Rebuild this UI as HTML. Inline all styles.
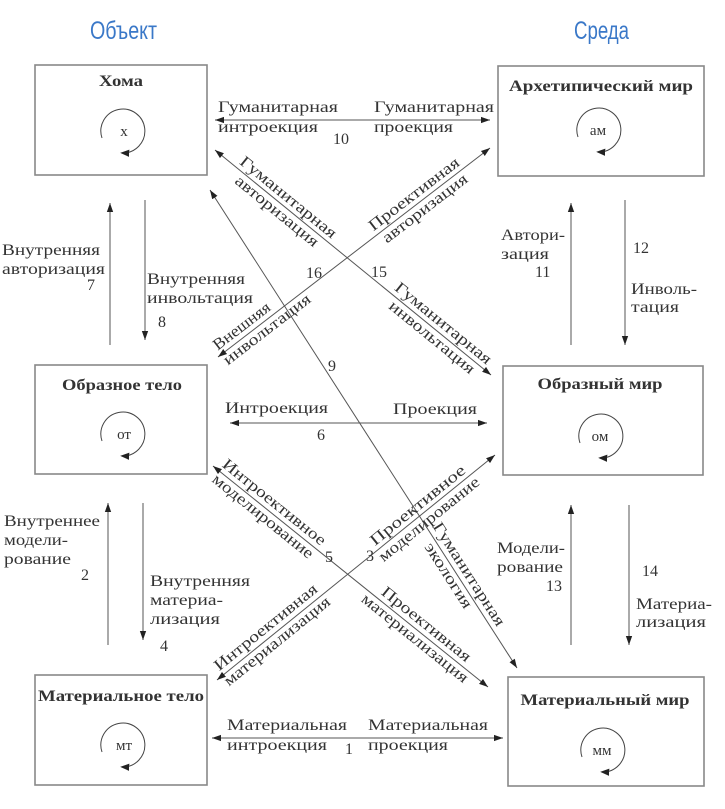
<!DOCTYPE html>
<html><head><meta charset="utf-8"><style>
html,body{margin:0;padding:0;background:#fff;}
svg{display:block;}
text{font-family:"Liberation Serif",serif;fill:#333;font-size:16px;}
.b{font-weight:bold;font-size:16px;}
.t{font-family:"Liberation Sans",sans-serif;fill:#3a78c8;font-size:25px;}
.c{font-size:15px;}
</style></head><body>
<svg width="725" height="809" viewBox="0 0 725 809" xmlns="http://www.w3.org/2000/svg">
<defs>
<marker id="a" viewBox="0 0 10 10" refX="10" refY="5" markerWidth="9" markerHeight="9" orient="auto-start-reverse" markerUnits="userSpaceOnUse"><path d="M0,1.5 L10,5 L0,8.5 z" fill="#222"/></marker>
<marker id="s" viewBox="0 0 10 10" refX="8" refY="5" markerWidth="9" markerHeight="9" orient="auto" markerUnits="userSpaceOnUse"><path d="M0,1 L10,5 L0,9 z" fill="#222"/></marker>
</defs>
<text class="t" x="90" y="39" textLength="67" lengthAdjust="spacingAndGlyphs">Объект</text>
<text class="t" x="574" y="39" textLength="55" lengthAdjust="spacingAndGlyphs">Среда</text>

<g fill="none" stroke="#888" stroke-width="1.6">
<rect x="35" y="65" width="172" height="110"/>
<rect x="498" y="66" width="206" height="110"/>
<rect x="35" y="365" width="172" height="109"/>
<rect x="503" y="366" width="200" height="109"/>
<rect x="35" y="675" width="172" height="110"/>
<rect x="508" y="677" width="196" height="109"/>
</g>
<text class="b" x="121" y="86" text-anchor="middle" textLength="44" lengthAdjust="spacingAndGlyphs">Хома</text>
<text class="b" x="601" y="91" text-anchor="middle" textLength="184" lengthAdjust="spacingAndGlyphs">Архетипический мир</text>
<text class="b" x="122" y="390" text-anchor="middle" textLength="120" lengthAdjust="spacingAndGlyphs">Образное тело</text>
<text class="b" x="600" y="389" text-anchor="middle" textLength="125" lengthAdjust="spacingAndGlyphs">Образный мир</text>
<text class="b" x="121" y="701" text-anchor="middle" textLength="166" lengthAdjust="spacingAndGlyphs">Материальное тело</text>
<text class="b" x="605" y="705" text-anchor="middle" textLength="169" lengthAdjust="spacingAndGlyphs">Материальный мир</text>

<g fill="none" stroke="#444" stroke-width="1">
<path d="M102,138 A22,22 0 1,1 122,153" marker-end="url(#s)"/>
<path d="M578,137 A22,22 0 1,1 598,152" marker-end="url(#s)"/>
<path d="M102,441 A22,22 0 1,1 122,456" marker-end="url(#s)"/>
<path d="M580,443 A22,22 0 1,1 600,458" marker-end="url(#s)"/>
<path d="M102,752 A22,22 0 1,1 122,767" marker-end="url(#s)"/>
<path d="M582,757 A22,22 0 1,1 602,772" marker-end="url(#s)"/>
</g>
<text class="c" x="124" y="136" text-anchor="middle">х</text>
<text class="c" x="598" y="135" text-anchor="middle">ам</text>
<text class="c" x="124" y="439" text-anchor="middle">от</text>
<text class="c" x="600" y="441" text-anchor="middle">ом</text>
<text class="c" x="124" y="750" text-anchor="middle">мт</text>
<text class="c" x="602" y="755" text-anchor="middle">мм</text>

<g stroke="#555" stroke-width="1" fill="none">
<line x1="215" y1="120" x2="490" y2="120" marker-start="url(#a)" marker-end="url(#a)"/>
<line x1="230" y1="423" x2="487" y2="423" marker-start="url(#a)" marker-end="url(#a)"/>
<line x1="212" y1="738" x2="503" y2="738" marker-start="url(#a)" marker-end="url(#a)"/>
<line x1="110" y1="345" x2="110" y2="203" marker-end="url(#a)"/>
<line x1="145" y1="200" x2="145" y2="340" marker-end="url(#a)"/>
<line x1="571" y1="345" x2="571" y2="203" marker-end="url(#a)"/>
<line x1="625" y1="200" x2="625" y2="345" marker-end="url(#a)"/>
<line x1="108" y1="645" x2="108" y2="503" marker-end="url(#a)"/>
<line x1="143" y1="503" x2="143" y2="640" marker-end="url(#a)"/>
<line x1="571" y1="645" x2="571" y2="505" marker-end="url(#a)"/>
<line x1="629" y1="505" x2="629" y2="645" marker-end="url(#a)"/>
<line x1="215" y1="150" x2="491" y2="375" marker-start="url(#a)" marker-end="url(#a)"/>
<line x1="218" y1="357" x2="490" y2="148" marker-start="url(#a)" marker-end="url(#a)"/>
<line x1="210" y1="190" x2="517" y2="668" marker-start="url(#a)" marker-end="url(#a)"/>
<line x1="213" y1="466" x2="488" y2="687" marker-start="url(#a)" marker-end="url(#a)"/>
<line x1="217" y1="680" x2="495" y2="455" marker-start="url(#a)" marker-end="url(#a)"/>
</g>

<!-- horizontal labels -->
<text x="218" y="112" textLength="120" lengthAdjust="spacingAndGlyphs">Гуманитарная</text>
<text x="218" y="132" textLength="100" lengthAdjust="spacingAndGlyphs">интроекция</text>
<text x="374" y="112" textLength="120" lengthAdjust="spacingAndGlyphs">Гуманитарная</text>
<text x="374" y="132" textLength="79" lengthAdjust="spacingAndGlyphs">проекция</text>
<text x="2" y="255" textLength="98" lengthAdjust="spacingAndGlyphs">Внутренняя</text>
<text x="2" y="274" textLength="103" lengthAdjust="spacingAndGlyphs">авторизация</text>
<text x="147" y="284" textLength="98" lengthAdjust="spacingAndGlyphs">Внутренняя</text>
<text x="147" y="303" textLength="106" lengthAdjust="spacingAndGlyphs">инвольтация</text>
<text x="501" y="240" textLength="64" lengthAdjust="spacingAndGlyphs">Автори-</text>
<text x="501" y="259" textLength="48" lengthAdjust="spacingAndGlyphs">зация</text>
<text x="631" y="294" textLength="66" lengthAdjust="spacingAndGlyphs">Инволь-</text>
<text x="631" y="312" textLength="48" lengthAdjust="spacingAndGlyphs">тация</text>
<text x="225" y="413" textLength="103" lengthAdjust="spacingAndGlyphs">Интроекция</text>
<text x="393" y="414" textLength="84" lengthAdjust="spacingAndGlyphs">Проекция</text>
<text x="4" y="526" textLength="96" lengthAdjust="spacingAndGlyphs">Внутреннее</text>
<text x="4" y="545" textLength="64" lengthAdjust="spacingAndGlyphs">модели-</text>
<text x="4" y="564" textLength="67" lengthAdjust="spacingAndGlyphs">рование</text>
<text x="150" y="586" textLength="100" lengthAdjust="spacingAndGlyphs">Внутренняя</text>
<text x="150" y="605" textLength="73" lengthAdjust="spacingAndGlyphs">материа-</text>
<text x="150" y="624" textLength="70" lengthAdjust="spacingAndGlyphs">лизация</text>
<text x="497" y="553" textLength="68" lengthAdjust="spacingAndGlyphs">Модели-</text>
<text x="497" y="572" textLength="66" lengthAdjust="spacingAndGlyphs">рование</text>
<text x="636" y="609" textLength="76" lengthAdjust="spacingAndGlyphs">Материа-</text>
<text x="636" y="627" textLength="70" lengthAdjust="spacingAndGlyphs">лизация</text>
<text x="227" y="730" textLength="120" lengthAdjust="spacingAndGlyphs">Материальная</text>
<text x="227" y="750" textLength="100" lengthAdjust="spacingAndGlyphs">интроекция</text>
<text x="368" y="730" textLength="120" lengthAdjust="spacingAndGlyphs">Материальная</text>
<text x="368" y="750" textLength="80" lengthAdjust="spacingAndGlyphs">проекция</text>

<!-- numbers -->
<text x="333" y="144">10</text>
<text x="306" y="278">16</text>
<text x="371" y="277">15</text>
<text x="328" y="371">9</text>
<text x="317" y="440">6</text>
<text x="87" y="290">7</text>
<text x="158" y="327">8</text>
<text x="535" y="277">11</text>
<text x="633" y="253">12</text>
<text x="81" y="580">2</text>
<text x="160" y="651">4</text>
<text x="546" y="591">13</text>
<text x="642" y="576">14</text>
<text x="345" y="754">1</text>
<text x="325" y="562">5</text>
<text x="366" y="561">3</text>

<!-- rotated labels -->
<g transform="translate(282,205) rotate(39.2)">
<text y="-5" text-anchor="middle" textLength="120" lengthAdjust="spacingAndGlyphs">Гуманитарная</text>
<text y="13" text-anchor="middle" textLength="103" lengthAdjust="spacingAndGlyphs">авторизация</text></g>
<g transform="translate(437,331) rotate(39.2)">
<text y="-5" text-anchor="middle" textLength="120" lengthAdjust="spacingAndGlyphs">Гуманитарная</text>
<text y="13" text-anchor="middle" textLength="106" lengthAdjust="spacingAndGlyphs">инвольтация</text></g>
<g transform="translate(420,202) rotate(-37.5)">
<text y="-5" text-anchor="middle" textLength="110" lengthAdjust="spacingAndGlyphs">Проективная</text>
<text y="13" text-anchor="middle" textLength="103" lengthAdjust="spacingAndGlyphs">авторизация</text></g>
<g transform="translate(262,323) rotate(-37.5)">
<text x="-18" y="-5" text-anchor="middle" textLength="68" lengthAdjust="spacingAndGlyphs">Внешняя</text>
<text y="13" text-anchor="middle" textLength="106" lengthAdjust="spacingAndGlyphs">инвольтация</text></g>
<g transform="translate(466,588) rotate(57.3)">
<text x="-10" y="-5" text-anchor="middle" textLength="120" lengthAdjust="spacingAndGlyphs">Гуманитарная</text>
<text x="-20" y="13" text-anchor="middle" textLength="75" lengthAdjust="spacingAndGlyphs">экология</text></g>
<g transform="translate(268,510) rotate(38.8)">
<text y="-5" text-anchor="middle" textLength="128" lengthAdjust="spacingAndGlyphs">Интроективное</text>
<text y="13" text-anchor="middle" textLength="125" lengthAdjust="spacingAndGlyphs">моделирование</text></g>
<g transform="translate(420,632) rotate(38.8)">
<text y="-5" text-anchor="middle" textLength="110" lengthAdjust="spacingAndGlyphs">Проективная</text>
<text y="13" text-anchor="middle" textLength="132" lengthAdjust="spacingAndGlyphs">материализация</text></g>
<g transform="translate(424,513) rotate(-39)">
<text y="-5" text-anchor="middle" textLength="118" lengthAdjust="spacingAndGlyphs">Проективное</text>
<text y="13" text-anchor="middle" textLength="125" lengthAdjust="spacingAndGlyphs">моделирование</text></g>
<g transform="translate(272,635) rotate(-39)">
<text y="-5" text-anchor="middle" textLength="128" lengthAdjust="spacingAndGlyphs">Интроективная</text>
<text y="13" text-anchor="middle" textLength="132" lengthAdjust="spacingAndGlyphs">материализация</text></g>
</svg>
</body></html>
